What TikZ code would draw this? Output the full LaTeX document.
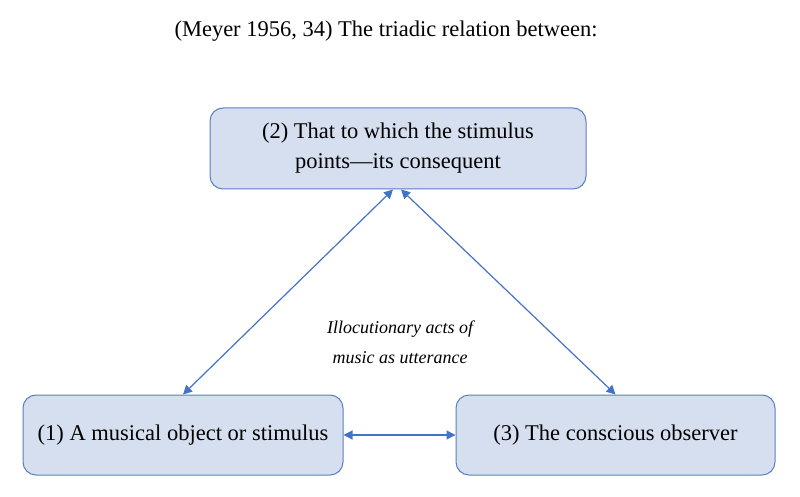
\documentclass[tikz,border=0pt]{standalone}
\usepackage{fontspec}
\setmainfont{Liberation Serif}
\usetikzlibrary{arrows.meta,calc}
\definecolor{boxfill}{HTML}{D6DFF0}
\definecolor{boxline}{HTML}{5A7EC2}
\definecolor{arr}{HTML}{4472C4}
\begin{document}
\begin{tikzpicture}[x=1pt,y=-1pt,
  box/.style={draw=boxline,fill=boxfill,rounded corners=13pt,line width=1pt,align=center,font=\fontsize{22.5}{30}\selectfont,inner sep=0pt},
  link/.style={draw=arr,line width=1.2pt,{Triangle[length=9pt,width=9pt]}-{Triangle[length=9pt,width=9pt]}}]
\useasboundingbox (0,0) rectangle (800,497);
\node[font=\fontsize{22.5}{26}\selectfont] (title) at (386,31) {(Meyer 1956, 34) The triadic relation between:};
\node[box,minimum width=376pt,minimum height=81pt] (b2) at (398,148.5) {(2) That to which the stimulus\\points—its consequent};
\node[box,minimum width=320pt,minimum height=80pt] (b1) at (183,435) {(1) A musical object or stimulus};
\node[box,minimum width=319pt,minimum height=80pt] (b3) at (615.5,435) {(3) The conscious observer};
\node[font=\fontsize{18}{30}\selectfont\itshape,align=center] (lab) at (400,342) {Illocutionary acts of\\music as utterance};
\draw[link] ($(b2.south)+(-5,0)$) -- (b1.north);
\draw[link] ($(b2.south)+(3,0)$) -- (b3.north);
\draw[link] (b1.east) -- (b3.west);
\end{tikzpicture}
\end{document}
